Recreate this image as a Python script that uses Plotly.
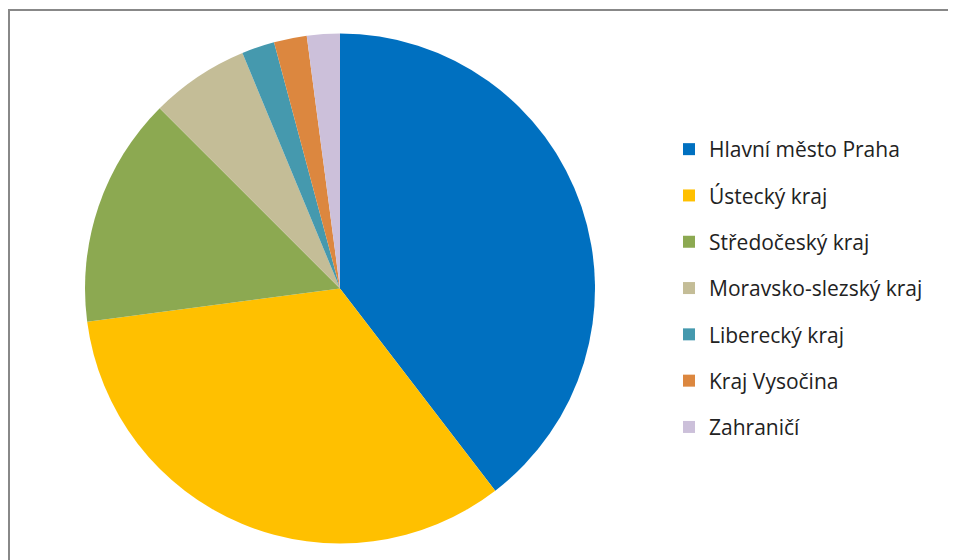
import plotly.graph_objects as go

labels = ["Hlavní město Praha", "Ústecký kraj", "Středočeský kraj",
          "Moravsko-slezský kraj", "Liberecký kraj", "Kraj Vysočina", "Zahraničí"]
values = [19, 16, 7, 3, 1, 1, 1]
colors = ["#0070C0", "#FFC000", "#8CA951", "#C4BD97", "#4599AE", "#DC873F", "#CCC0DA"]

# page has an 8px body margin; figure sized to fit the window
W, H = 948, 552
fig = go.Figure()

fig.add_trace(go.Pie(
    labels=labels, values=values, sort=False, direction="clockwise", rotation=0,
    marker=dict(colors=colors, line=dict(width=0)),
    textinfo="none", hoverinfo="label+value+percent", showlegend=False,
    domain=dict(x=[77 / W, 587 / W], y=[16.5 / H, 526.5 / H]),
))

# legend entries (one per slice, same labels/colours)
for lab, col in zip(labels, colors):
    fig.add_trace(go.Scatter(
        x=[None], y=[None], mode="markers", name=lab, legendgroup=lab,
        marker=dict(symbol="square", size=12, color=col),
        showlegend=True, hoverinfo="skip",
    ))

fig.update_layout(
    width=W, height=H,
    margin=dict(l=0, r=0, t=0, b=0),
    paper_bgcolor="white", plot_bgcolor="white",
    font=dict(family="Open Sans, sans-serif", size=21, color="#222222"),
    xaxis=dict(visible=False), yaxis=dict(visible=False),
    legend=dict(x=661 / W, y=1 - 121 / H, xanchor="left", yanchor="top",
                tracegroupgap=16, itemclick=False, itemdoubleclick=False,
                bgcolor="rgba(0,0,0,0)"),
    shapes=[
        dict(type="line", xref="paper", yref="paper", x0=0, x1=1, y0=1 - 2 / H, y1=1 - 2 / H,
             line=dict(color="#888888", width=2)),
        dict(type="line", xref="paper", yref="paper", x0=1 / W, x1=1 / W, y0=0, y1=1 - 2 / H,
             line=dict(color="#888888", width=2)),
    ],
)

fig.write_html("out.html")
